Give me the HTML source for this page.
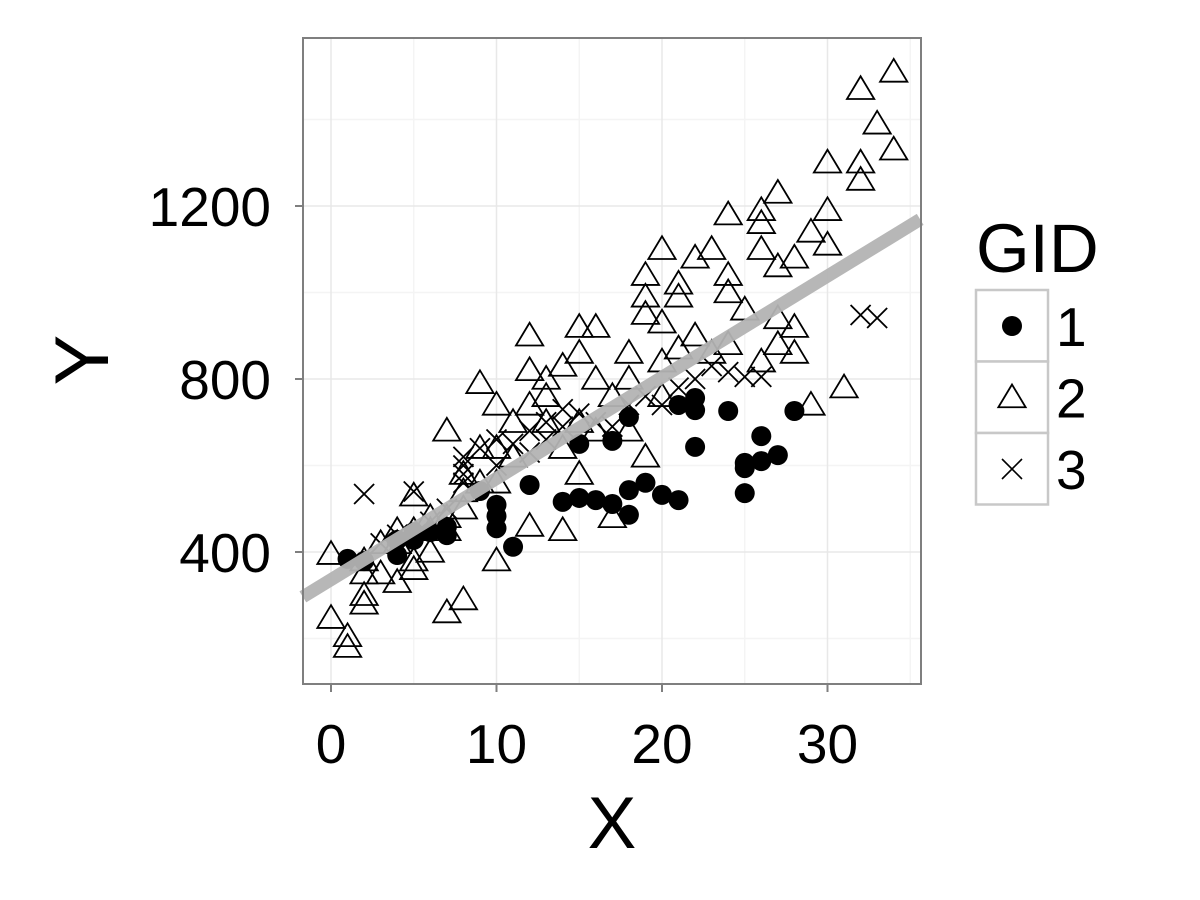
<!DOCTYPE html>
<html><head><meta charset="utf-8"><style>
html,body{margin:0;padding:0;background:#fff;}
svg{display:block;font-family:"Liberation Sans",Arial,sans-serif;}
</style></head><body>
<svg id="chart" width="1200" height="900" viewBox="0 0 1200 900"></svg>
<script>
const g1x=[1,2,4,4,5,5,6,7,7,9,10,10,10,11,12,14,15,15,16,17,17,18,18,18,19,20,21,21,22,22,22,24,25,25,25,26,26,27,28];
const g1y=[384,379,393,428,446,428,446,458,439,541,509,483,455,412,555,516,525,650,520,511,657,486,543,712,560,532,520,740,643,756,728,726,536,594,606,668,610,624,726];
const g2x=[0,0,1,1,2,2,2,2,3,3,4,4,4,5,5,5,5,6,6,6,7,7,7,7,8,8,8,8,9,9,9,10,10,10,10,11,11,12,12,12,12,13,13,13,14,14,14,15,15,15,15,16,16,16,17,17,18,18,18,19,19,19,19,20,20,20,20,21,21,21,22,22,23,23,24,24,24,24,25,26,26,26,26,27,27,27,27,28,28,28,29,29,30,30,30,31,32,32,32,33,34,34];
const g2y=[395,247,205,180,280,300,350,380,350,420,330,420,450,450,380,360,530,400,450,480,260,480,680,450,290,500,540,580,790,640,560,380,740,560,640,620,700,900,820,460,740,800,700,760,450,830,640,920,860,580,700,920,800,680,480,760,860,680,800,1040,990,620,950,1100,930,840,760,990,870,1020,1080,900,1100,860,1180,1040,1000,880,960,1190,1160,1100,840,1230,1060,940,880,1080,920,860,1140,740,1300,1190,1110,780,1470,1300,1260,1390,1510,1330];
const g3x=[2,3,4,5,6,7,8,8,8,8,9,10,10,11,12,12,13,13,14,14,15,16,17,18,19,20,21,22,23,24,25,26,32,33];
const g3y=[534,420,440,540,470,500,560,580,600,620,640,600,660,650,680,630,700,660,690,730,720,700,690,740,760,740,780,800,830,816,805,805,948,941];
const xTicks=[0,10,20,30];
const yTicks=[400,800,1200];
const fitIntercept=336, fitSlope=23.4;

const NS="http://www.w3.org/2000/svg";
const svg=document.getElementById('chart');
const L=303,R=921,T=38,B=684;
const sx=v=>331+v*16.55;
const sy=v=>552-(v-400)*0.4325;
function el(tag,attrs,parent){const e=document.createElementNS(NS,tag);for(const k in attrs)e.setAttribute(k,attrs[k]);(parent||svg).appendChild(e);return e;}

const panel=el('rect',{x:L,y:T,width:R-L,height:B-T,fill:'#fff'});


const grid=el('g',{});


[5,15,25,35].forEach(v=>el('line',{x1:sx(v),x2:sx(v),y1:T,y2:B,stroke:'#f4f4f4','stroke-width':1.5},grid));
[200,600,1000,1400].forEach(v=>el('line',{x1:L,x2:R,y1:sy(v),y2:sy(v),stroke:'#f4f4f4','stroke-width':1.5},grid));
xTicks.forEach(v=>el('line',{x1:sx(v),x2:sx(v),y1:T,y2:B,stroke:'#e8e8e8','stroke-width':1.5},grid));
yTicks.forEach(v=>el('line',{x1:L,x2:R,y1:sy(v),y2:sy(v),stroke:'#e8e8e8','stroke-width':1.5},grid));

const pts=el('g',{});


function tri(cx,cy,parent){const s=13;return el('polygon',{points:`${cx},${cy-s} ${cx-s*1.05},${cy+s*0.75} ${cx+s*1.05},${cy+s*0.75}`,fill:'none',stroke:'#000','stroke-width':1.8},parent);}
g2x.forEach((x,i)=>{const t=tri(sx(x),sy(g2y[i]),pts);});
g3x.forEach((x,i)=>{const cx=sx(x),cy=sy(g3y[i]),s=10;const p=el('path',{d:`M${cx-s},${cy-s}L${cx+s},${cy+s}M${cx-s},${cy+s}L${cx+s},${cy-s}`,stroke:'#000','stroke-width':1.8},pts);});
g1x.forEach((x,i)=>{const c=el('circle',{cx:sx(x),cy:sy(g1y[i]),r:10,fill:'#000'},pts);});

const x0=-1.7,x1=35.6;
const fit=el('line',{x1:sx(x0),y1:sy(fitIntercept+fitSlope*x0),x2:sx(x1),y2:sy(fitIntercept+fitSlope*x1),stroke:'#b3b3b3','stroke-width':13,'stroke-opacity':0.95});



const border=el('rect',{x:L,y:T,width:R-L,height:B-T,fill:'none',stroke:'#7f7f7f','stroke-width':2});



xTicks.forEach(v=>{el('line',{x1:sx(v),x2:sx(v),y1:B,y2:B+8,stroke:'#7f7f7f','stroke-width':2});const t=el('text',{x:sx(v),y:763,'text-anchor':'middle','font-size':55,fill:'#000'});t.textContent=v;});
yTicks.forEach(v=>{el('line',{x1:L-8,x2:L,y1:sy(v),y2:sy(v),stroke:'#7f7f7f','stroke-width':2});const t=el('text',{x:L-32,y:sy(v)+20,'text-anchor':'end','font-size':55,fill:'#000'});t.textContent=v;});

const xt=el('text',{x:612,y:848,'text-anchor':'middle','font-size':73,fill:'#000'});xt.textContent='X';


const yt=el('text',{x:0,y:0,'text-anchor':'middle','font-size':76,fill:'#000',transform:'translate(108,360) rotate(-90)'});yt.textContent='Y';



const lg=el('g',{});


const lt=el('text',{x:976,y:272,'font-size':69,fill:'#000'},lg);lt.textContent='GID';


['1','2','3'].forEach((lab,i)=>{
  const y=290+i*71.5, cx=1012, cy=y+36;
  const box=el('rect',{x:976,y:y,width:72,height:71.5,fill:'#fff',stroke:'#c8c8c8','stroke-width':2.5},lg);
  
  
  if(i===0)el('circle',{cx:cx,cy:cy,r:10,fill:'#000'},lg);
  else if(i===1)tri(cx,cy,lg);
  else el('path',{d:`M${cx-10},${cy-10}L${cx+10},${cy+10}M${cx-10},${cy+10}L${cx+10},${cy-10}`,stroke:'#000','stroke-width':1.6},lg);
  const t=el('text',{x:1056,y:cy+20,'font-size':55,fill:'#000'},lg);t.textContent=lab;
  
  
});
</script>
</body></html>
